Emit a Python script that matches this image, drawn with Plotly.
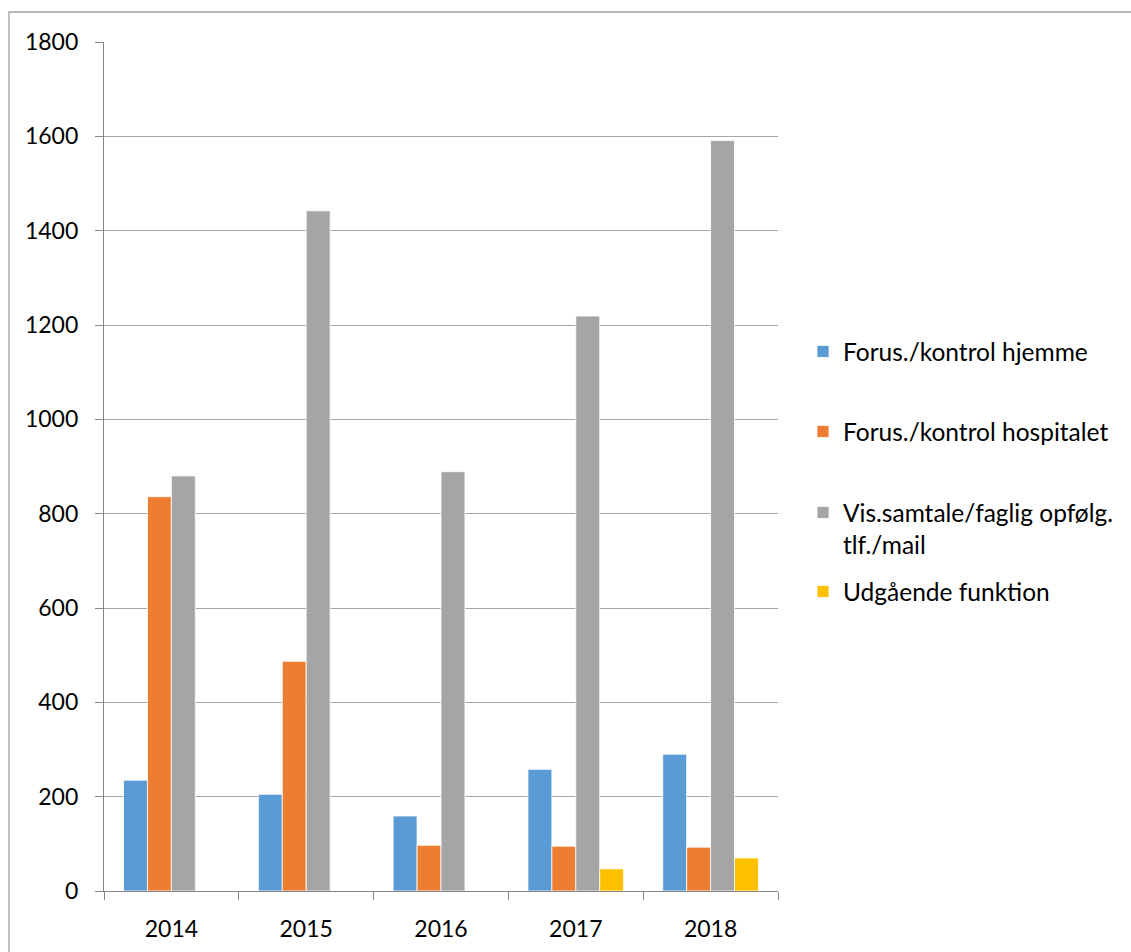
import plotly.graph_objects as go

years = ["2014", "2015", "2016", "2017", "2018"]
hjemme = [235, 205, 159, 258, 290]
hospitalet = [836, 487, 97, 95, 93]
samtale = [880, 1442, 889, 1219, 1591]
udgaaende = [None, None, None, 47, 70]

names = [
    "Forus./kontrol hjemme",
    "Forus./kontrol hospitalet",
    "Vis.samtale/faglig opfølg.<br>tlf./mail",
    "Udgående funktion",
]
colors = ["#5B9BD5", "#ED7D31", "#A5A5A5", "#FFC000"]
series = [hjemme, hospitalet, samtale, udgaaende]

FONT = "Lato"
W, H = 1131, 952
L, R, T, B = 104, 353, 42, 61
pw, ph = W - L - R, H - T - B


def px_x(p):
    return (p - L) / pw


def px_y(p):
    return (H - B - p) / ph


fig = go.Figure()
legend_ids = ["legend", "legend2", "legend3", "legend4"]
for name, col, vals, lg in zip(names, colors, series, legend_ids):
    fig.add_trace(go.Bar(
        x=years, y=vals, name=name, legend=lg,
        marker=dict(color=col, line=dict(color="white", width=0.8)),
    ))

# legend rows (top pixel of each entry)
legend_tops = [329, 409, 490, 569]
leg_common = dict(
    font=dict(family=FONT, size=24.5, color="#000000"),
    bgcolor="rgba(0,0,0,0)", borderwidth=0, valign="top",
    xanchor="left", yanchor="top",
)
layout_legends = {}
for lg, top in zip(legend_ids, legend_tops):
    layout_legends[lg] = dict(x=px_x(803), y=px_y(top), **leg_common)

fig.update_layout(
    width=W, height=H,
    margin=dict(l=L, r=R, t=T, b=B, autoexpand=False),
    paper_bgcolor="white", plot_bgcolor="white",
    barmode="group", bargap=0.29, bargroupgap=0.0,
    font=dict(family=FONT, size=23, color="#000000"),
    showlegend=True,
    **layout_legends,
)

fig.update_yaxes(
    range=[0, 1800], dtick=200, tick0=0,
    showgrid=True, gridcolor="#A6A6A6", gridwidth=1.3,
    showline=True, linecolor="#868686", linewidth=1.3,
    ticks="outside", ticklen=8, tickcolor="#868686", tickwidth=1.3,
    ticklabelstandoff=12,
    tickfont=dict(family=FONT, size=23, color="#000000"),
    zeroline=False,
)
fig.update_xaxes(
    showline=True, linecolor="#868686", linewidth=1.3,
    ticks="outside", ticklen=8, tickcolor="#868686", tickwidth=1.3,
    tickson="boundaries",
    ticklabelstandoff=17,
    tickfont=dict(family=FONT, size=23, color="#000000"),
)

# chart frame
fig.add_shape(
    type="rect", xref="paper", yref="paper",
    x0=px_x(9), x1=px_x(1140), y0=px_y(965), y1=px_y(12),
    line=dict(color="#A0A0A0", width=1.3), fillcolor="rgba(0,0,0,0)",
    layer="below",
)

fig.write_html("out.html")
